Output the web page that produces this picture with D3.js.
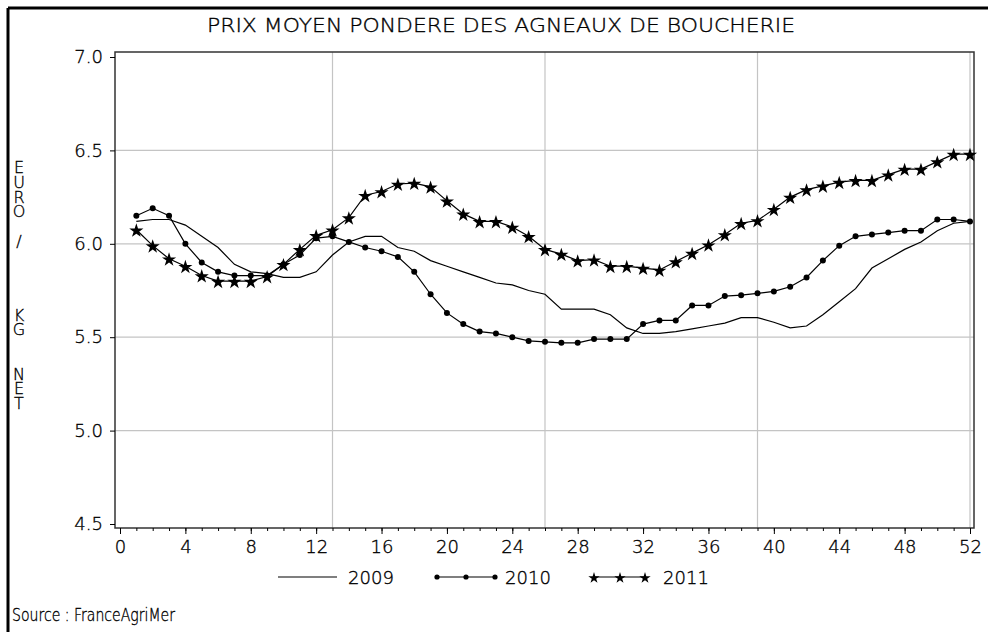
<!DOCTYPE html>
<html>
<head>
<meta charset="utf-8">
<script src="https://cdn.jsdelivr.net/npm/d3@7"></script>
<style>
  html, body { margin: 0; padding: 0; background: #fff; }
  svg { display: block; }
  text { font-family: "DejaVu Sans", "Liberation Sans", sans-serif; font-weight: 200; fill: #000; stroke: #000; stroke-width: 0.35px; }
</style>
</head>
<body>
<svg id="chart" width="988" height="632"></svg>
<script>
// week numbers (x categories)
const weeks = [1, 2, 3, 4, 5, 6, 7, 8, 9, 10, 11, 12, 13, 14, 15, 16, 17, 18, 19, 20, 21, 22, 23, 24, 25, 26,
  27, 28, 29, 30, 31, 32, 33, 34, 35, 36, 37, 38, 39, 40, 41, 42, 43, 44, 45, 46, 47, 48, 49, 50, 51, 52];

// prices, euro / kg net
const prix2009 = [6.12, 6.13, 6.13, 6.10, 6.04, 5.98, 5.89, 5.85, 5.84, 5.82, 5.82, 5.85, 5.94,
  6.01, 6.04, 6.04, 5.98, 5.96, 5.91, 5.88, 5.85, 5.82, 5.79, 5.78, 5.75, 5.73,
  5.65, 5.65, 5.65, 5.62, 5.55, 5.52, 5.52, 5.53, 5.545, 5.56, 5.575, 5.605, 5.605,
  5.58, 5.55, 5.56, 5.62, 5.69, 5.76, 5.87, 5.92, 5.97, 6.01, 6.07, 6.11, 6.12];

const prix2010 = [6.15, 6.19, 6.15, 6.00, 5.90, 5.85, 5.83, 5.83, 5.83, 5.89, 5.94, 6.03, 6.04,
  6.01, 5.98, 5.96, 5.93, 5.85, 5.73, 5.63, 5.57, 5.53, 5.52, 5.50, 5.48, 5.475,
  5.47, 5.47, 5.49, 5.49, 5.49, 5.57, 5.59, 5.59, 5.67, 5.67, 5.72, 5.725, 5.735,
  5.745, 5.77, 5.82, 5.91, 5.99, 6.04, 6.05, 6.06, 6.07, 6.07, 6.13, 6.13, 6.12];

const prix2011 = [6.075, 5.99, 5.92, 5.88, 5.83, 5.80, 5.80, 5.80, 5.825, 5.89, 5.97, 6.045, 6.075,
  6.14, 6.26, 6.28, 6.32, 6.325, 6.305, 6.23, 6.16, 6.12, 6.12, 6.09, 6.04, 5.97,
  5.945, 5.91, 5.915, 5.88, 5.88, 5.87, 5.86, 5.905, 5.95, 5.995, 6.05, 6.11, 6.125,
  6.185, 6.25, 6.29, 6.31, 6.33, 6.34, 6.34, 6.37, 6.40, 6.40, 6.44, 6.48, 6.48];

const yTicks = [4.5, 5.0, 5.5, 6.0, 6.5, 7.0];
const yGrid = [5.0, 5.5, 6.0, 6.5];
const xLabels = [0, 4, 8, 12, 16, 20, 24, 28, 32, 36, 40, 44, 48, 52];
const xGrid = [13, 26, 39, 52];
const years = ["2009", "2010", "2011"];

const svg = d3.select("#chart");

// outer border (top + left)
svg.append("line").attr("x1", 8).attr("x2", 988).attr("y1", 8).attr("y2", 8)
  .attr("stroke", "#000").attr("stroke-width", 3);
svg.append("line").attr("x1", 8).attr("x2", 8).attr("y1", 8).attr("y2", 632)
  .attr("stroke", "#000").attr("stroke-width", 3);

// title
svg.append("text")
  .attr("x", 207).attr("y", 32)
  .attr("font-size", 20)
  .attr("textLength", 588)
  .attr("lengthAdjust", "spacingAndGlyphs")
  .text("PRIX MOYEN PONDERE DES AGNEAUX DE BOUCHERIE");

const frame = { left: 115, right: 974, top: 52, bottom: 528 };

const x = d3.scaleLinear().domain([0, 52]).range([120, 970]);
const y = d3.scaleLinear().domain([4.5, 7]).range([524, 57]);

// grid
svg.append("g").selectAll("line").data(yGrid).enter().append("line")
  .attr("x1", frame.left).attr("x2", frame.right)
  .attr("y1", d => y(d)).attr("y2", d => y(d))
  .attr("stroke", "#c4c4c4").attr("stroke-width", 1.2);
svg.append("g").selectAll("line").data(xGrid).enter().append("line")
  .attr("x1", d => x(d)).attr("x2", d => x(d))
  .attr("y1", frame.top).attr("y2", frame.bottom)
  .attr("stroke", "#c4c4c4").attr("stroke-width", 1.2);

// frame
svg.append("rect")
  .attr("x", frame.left).attr("y", frame.top)
  .attr("width", frame.right - frame.left).attr("height", frame.bottom - frame.top)
  .attr("fill", "none").attr("stroke", "#333").attr("stroke-width", 1.5);

// y axis
const yAxis = svg.append("g")
  .attr("transform", `translate(${frame.left},0)`)
  .call(d3.axisLeft(y).tickValues(yTicks).tickSize(5).tickPadding(7).tickFormat(d3.format(".1f")));
yAxis.select(".domain").remove();
yAxis.selectAll("text").attr("font-size", 18).style("font-family", null);

// x axis : minor ticks every week, labels every 4
const xMinor = svg.append("g")
  .attr("transform", `translate(0,${frame.bottom})`)
  .call(d3.axisBottom(x).tickValues(d3.range(0, 53)).tickSize(3).tickFormat(""));
xMinor.select(".domain").remove();

const xAxis = svg.append("g")
  .attr("transform", `translate(0,${frame.bottom})`)
  .call(d3.axisBottom(x).tickValues(xLabels).tickSize(6).tickPadding(6).tickFormat(d3.format("d")));
xAxis.select(".domain").remove();
xAxis.selectAll("text").attr("font-size", 18).style("font-family", null);

// y axis title, upright letters stacked in one vertical text
svg.append("text")
  .attr("x", 19).attr("y", 158)
  .attr("font-size", 16)
  .attr("textLength", 255)
  .attr("lengthAdjust", "spacing")
  .style("writing-mode", "vertical-rl")
  .style("text-orientation", "upright")
  .style("white-space", "pre")
  .text("EURO /    KG  NET");

// series
const line = d3.line().x(d => x(d[0])).y(d => y(d[1]));
const s2009 = weeks.map((w, i) => [w, prix2009[i]]);
const s2010 = weeks.map((w, i) => [w, prix2010[i]]);
const s2011 = weeks.map((w, i) => [w, prix2011[i]]);

[s2009, s2010, s2011].forEach(s => {
  svg.append("path").datum(s)
    .attr("d", line)
    .attr("fill", "none")
    .attr("stroke", "#000")
    .attr("stroke-width", 1.2);
});

svg.append("g").selectAll("circle").data(s2010).enter().append("circle")
  .attr("cx", d => x(d[0])).attr("cy", d => y(d[1]))
  .attr("r", 3).attr("fill", "#000");

const star = d3.symbol().type(d3.symbolStar).size(62);
svg.append("g").selectAll("path").data(s2011).enter().append("path")
  .attr("d", star)
  .attr("transform", d => `translate(${x(d[0])},${y(d[1]) + 1})`)
  .attr("fill", "#000");

// legend
const ly = 577;
const legend = svg.append("g");
legend.append("line").attr("x1", 278).attr("x2", 337).attr("y1", ly).attr("y2", ly)
  .attr("stroke", "#000").attr("stroke-width", 1.2);
legend.append("line").attr("x1", 437).attr("x2", 495).attr("y1", ly).attr("y2", ly)
  .attr("stroke", "#000").attr("stroke-width", 1.2);
legend.append("line").attr("x1", 594).attr("x2", 645).attr("y1", ly).attr("y2", ly)
  .attr("stroke", "#000").attr("stroke-width", 1.2);
legend.selectAll("circle").data([437, 466, 495]).enter().append("circle")
  .attr("cx", d => d).attr("cy", ly).attr("r", 2.6).attr("fill", "#000");
const smallStar = d3.symbol().type(d3.symbolStar).size(40);
legend.selectAll("path.ls").data([594, 620, 645]).enter().append("path")
  .attr("class", "ls")
  .attr("d", smallStar)
  .attr("transform", d => `translate(${d},${ly + 1})`)
  .attr("fill", "#000");
legend.selectAll("text").data(years).enter().append("text")
  .attr("x", (d, i) => [348, 505, 663][i])
  .attr("y", ly + 7)
  .attr("font-size", 18)
  .attr("textLength", 46)
  .text(d => d);

// source
svg.append("text")
  .attr("x", 12).attr("y", 621)
  .attr("font-size", 17)
  .attr("textLength", 163)
  .attr("lengthAdjust", "spacingAndGlyphs")
  .text("Source : FranceAgriMer");
</script>
</body>
</html>
